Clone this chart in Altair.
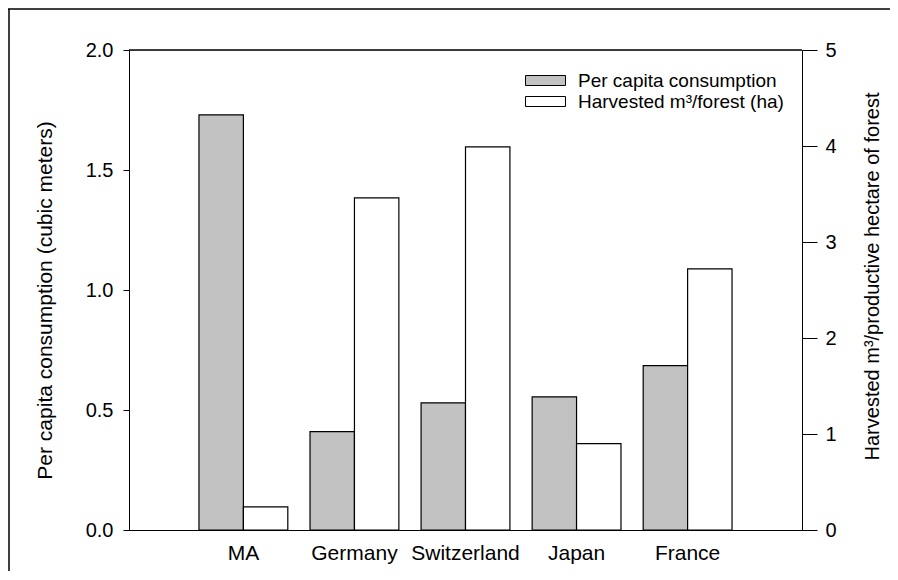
import altair as alt
import pandas as pd

countries = ["MA", "Germany", "Switzerland", "Japan", "France"]
per_capita = [1.73, 0.41, 0.53, 0.555, 0.685]
harvested = [0.24, 3.46, 3.99, 0.90, 2.72]
series_names = ["Per capita consumption", "Harvested m\u00b3/forest (ha)"]
left_ticks = [0.0, 0.5, 1.0, 1.5, 2.0]
right_ticks = [0, 1, 2, 3, 4, 5]

rows = []
for c, v in zip(countries, per_capita):
    rows.append({"country": c, "series": series_names[0], "value": v})
for c, v in zip(countries, harvested):
    rows.append({"country": c, "series": series_names[1], "value": v})
df = pd.DataFrame(rows)

FONT = "Liberation Sans"
W, H = 673, 480

x_enc = alt.X(
    "country:N",
    sort=countries,
    scale=alt.Scale(paddingInner=0.2, paddingOuter=0.63),
    axis=alt.Axis(title=None, ticks=False, labelAngle=0, labelFontSize=21,
                  labelPadding=12, labelColor="black", labelFont=FONT,
                  domainColor="black"),
)
xoff_enc = alt.XOffset("series:N", sort=series_names,
                       scale=alt.Scale(domain=series_names, paddingInner=0, paddingOuter=0))
color_enc = alt.Color(
    "series:N",
    scale=alt.Scale(domain=series_names, range=["#c2c2c2", "#ffffff"]),
    legend=alt.Legend(
        title=None, orient="none", legendX=406, legendY=20,
        symbolType="M-2,-0.5H2V0.5H-2Z", symbolSize=400,
        symbolStrokeColor="black", symbolStrokeWidth=1,
        labelFontSize=19, labelFont=FONT, labelColor="black", labelLimit=0,
        labelOffset=22, rowPadding=0, padding=0,
    ),
)

base = alt.Chart(df)

left = base.transform_filter(alt.datum.series == series_names[0]).mark_bar(
    stroke="black", strokeWidth=1.2
).encode(
    x=x_enc,
    xOffset=xoff_enc,
    y=alt.Y("value:Q", scale=alt.Scale(domain=[0, 2], nice=False),
            axis=alt.Axis(title="Per capita consumption (cubic meters)", orient="left",
                          values=left_ticks, format=".1f", grid=False,
                          tickSize=6, tickColor="black", domainColor="black",
                          labelFontSize=20, labelPadding=10, labelColor="black", labelFont=FONT,
                          titleFontSize=21, titleFont=FONT, titleFontWeight="normal",
                          titleColor="black", titleX=-84, titleY=250,
                          titleAngle=270, titleBaseline="middle", titleAlign="center")),
    color=color_enc,
)

right = base.transform_filter(alt.datum.series == series_names[1]).mark_bar(
    stroke="black", strokeWidth=1.2
).encode(
    x=x_enc,
    xOffset=xoff_enc,
    y=alt.Y("value:Q", scale=alt.Scale(domain=[0, 5], nice=False),
            axis=alt.Axis(title="Harvested m\u00b3/productive hectare of forest", orient="right",
                          values=right_ticks, format="d", grid=False,
                          tickSize=15, tickColor="black", domainColor="black",
                          labelFontSize=20, labelPadding=8, labelColor="black", labelFont=FONT,
                          titleFontSize=20, titleFont=FONT, titleFontWeight="normal",
                          titleColor="black", titleX=70, titleY=226,
                          titleAngle=270, titleBaseline="middle", titleAlign="center")),
    color=color_enc,
)

frame_df = pd.DataFrame({"k": [0]})
top_line = alt.Chart(frame_df).mark_rule(color="black", strokeWidth=1.5).encode(
    x=alt.value(-121), x2=alt.value(W + 88), y=alt.value(-41)
)
left_line = alt.Chart(frame_df).mark_rule(color="black", strokeWidth=1.5).encode(
    x=alt.value(-120), y=alt.value(-41), y2=alt.value(H + 42)
)
plot_top = alt.Chart(frame_df).mark_rule(color="black", strokeWidth=1.3).encode(
    x=alt.value(0), x2=alt.value(W), y=alt.value(0)
)

chart = alt.layer(left, right, top_line, left_line, plot_top).resolve_scale(
    y="independent"
).properties(
    width=W, height=H,
    autosize=alt.AutoSizeParams(type="none"),
    padding={"left": 121, "top": 42, "right": 88, "bottom": 41},
).configure_view(
    stroke="black", strokeWidth=1
).configure(background="white")

chart.save("out.html", embed_options={"renderer": "svg", "actions": False})
